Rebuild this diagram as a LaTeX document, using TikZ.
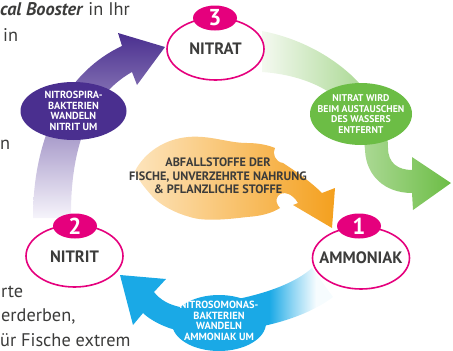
\documentclass[tikz,border=0pt]{standalone}
\usepackage{fontspec}
\setmainfont{PT Sans}
\usetikzlibrary{shapes.geometric}
\definecolor{mag}{HTML}{E5007D}
\definecolor{txtc}{HTML}{3C3C3B}
\definecolor{purp}{HTML}{4A2F8F}
\definecolor{purpM}{HTML}{8C7BC0}
\definecolor{purpL}{HTML}{F6F4FB}
\definecolor{grn}{HTML}{6CBD45}
\definecolor{grnL}{HTML}{F4F9F0}
\definecolor{blu}{HTML}{1AA9E6}
\definecolor{bluM}{HTML}{8FD5F3}
\definecolor{bluL}{HTML}{F6FCFE}
\definecolor{orgL}{HTML}{FDE4BC}
\definecolor{orgM}{HTML}{FBC679}
\definecolor{orgR}{HTML}{F4A01E}
\pgfdeclarehorizontalshading{bluefade}{100bp}{color(0bp)=(blu); color(60bp)=(blu); color(65.5bp)=(bluM); color(71bp)=(bluL); color(100bp)=(bluL)}
\tikzset{
  mainell/.style={ellipse, draw=mag, line width=1.6pt, fill=white, minimum width=97pt, minimum height=62pt, inner sep=0pt},
  badge/.style={ellipse, fill=mag, minimum width=44pt, minimum height=25pt, inner sep=0pt, text=white, font=\fontsize{23}{23}\selectfont\bfseries},
  maintxt/.style={text=txtc, font=\fontsize{16.5}{16.5}\selectfont\bfseries},
  labell/.style={ellipse, inner sep=0pt},
  labtxt/.style={text=white, align=center, inner sep=0pt, font=\fontsize{9.8}{10.8}\selectfont\bfseries},
  cloudtxt/.style={text=txtc, align=center, inner sep=0pt, font=\fontsize{12.2}{13.5}\selectfont\bfseries},
  bgtxt/.style={text=txtc, anchor=base west, inner sep=0pt, font=\fontsize{18.3}{18.3}\selectfont}
}
\begin{document}
\begin{tikzpicture}[x=1pt,y=-1pt]
\useasboundingbox (0,0) rectangle (453,351);
\clip (0,0) rectangle (453,351);

% background text fragments
\node[bgtxt] (t1) at (0,15) {\textbf{\textit{cal Booster}} in Ihr};
\node[bgtxt] (t2) at (3,41) {in};
\node[bgtxt] (t3) at (0,149) {n};
\node[bgtxt] (t4) at (1,297) {rte};
\node[bgtxt] (t5) at (1,321) {erderben,};
\node[bgtxt] (t6) at (0,346) {ür Fische extrem};

% purple arrow (Nitrit -> Nitrat)
\shade[top color=purp, middle color=purpM, bottom color=purpL]
  (33,218) .. controls (33,130) and (70,70) .. (122,46)
  -- (118,33) -- (165,47) -- (137,85) -- (132,72)
  .. controls (100,90) and (70,130) .. (71,218) -- cycle;

% green arrow (Nitrat -> out)
\shade[left color=grnL, right color=grn]
  (262,31) .. controls (330,44) and (388,95) .. (388,148)
  .. controls (388,163) and (398,170) .. (412,170)
  -- (412,157) -- (451,183) -- (413,210) -- (412,193)
  .. controls (385,193) and (366,176) .. (365,150)
  .. controls (362,105) and (320,76) .. (262,72) -- cycle;

% blue arrow (Ammoniak -> Nitrit)
\shade[shading=bluefade]
  (312,268) .. controls (285,292) and (230,303) .. (180,307)
  .. controls (170,305) and (160,300) .. (154,292)
  -- (166,279) -- (120,275) -- (133,325) -- (143,313)
  .. controls (150,320) and (165,328) .. (180,331)
  .. controls (240,336) and (300,322) .. (333,297) -- cycle;

% orange cloud
\shade[left color=orgL, middle color=orgM, right color=orgR]
  (135,171) .. controls (145,152) and (165,139) .. (188,137)
  .. controls (210,135) and (228,143) .. (247,143)
  .. controls (258,143) and (268,145) .. (275,148)
  .. controls (272,153) and (275,162) .. (283,163)
  .. controls (297,172) and (312,183) .. (322,193)
  -- (335,188) -- (332,228) -- (293,205) -- (298,203)
  .. controls (293,194) and (283,190) .. (278,196)
  .. controls (275,200) and (277,205) .. (280,208)
  .. controls (272,213) and (262,216) .. (247,217)
  .. controls (230,219) and (205,222) .. (190,217)
  .. controls (175,213) and (160,205) .. (152,196)
  .. controls (145,188) and (138,180) .. (135,171) -- cycle;
\node[cloudtxt] (ct) at (218,176) {ABFALLSTOFFE DER\\FISCHE, UNVERZEHRTE NAHRUNG\\\& PFLANZLICHE STOFFE};

% label ellipses
\node[labell, fill=purp, minimum width=106pt, minimum height=58pt] (lp) at (73.5,111) {};
\node[labtxt, font=\fontsize{10.3}{10.5}\selectfont\bfseries] (lpt) at (lp) {NITROSPIRA-\\BAKTERIEN\\WANDELN\\NITRIT UM};
\node[labell, fill=grn, minimum width=102pt, minimum height=62pt] (lg) at (361,114) {};
\node[labtxt] (lgt) at (lg) {NITRAT WIRD\\BEIM AUSTAUSCHEN\\DES WASSERS\\ENTFERNT};
\node[labell, fill=blu, minimum width=94pt, minimum height=56pt] (lb) at (219,323) {};
\node[labtxt, font=\fontsize{10.4}{10.6}\selectfont\bfseries] (lbt) at (219,321) {NITROSOMONAS-\\BAKTERIEN\\WANDELN\\AMMONIAK UM};

% main nodes
\node[mainell] (n3) at (215.5,49) {};
\node[maintxt] (n3t) at (215.5,49) {NITRAT};
\node[badge] (b3) at (215,18) {3};
\node[mainell] (n2) at (74.5,256) {};
\node[maintxt] (n2t) at (74.5,257) {NITRIT};
\node[badge] (b2) at (75,226) {2};
\node[mainell] (n1) at (361,258) {};
\node[maintxt] (n1t) at (361,258) {AMMONIAK};
\node[badge] (b1) at (359,226) {1};
\end{tikzpicture}
\end{document}
